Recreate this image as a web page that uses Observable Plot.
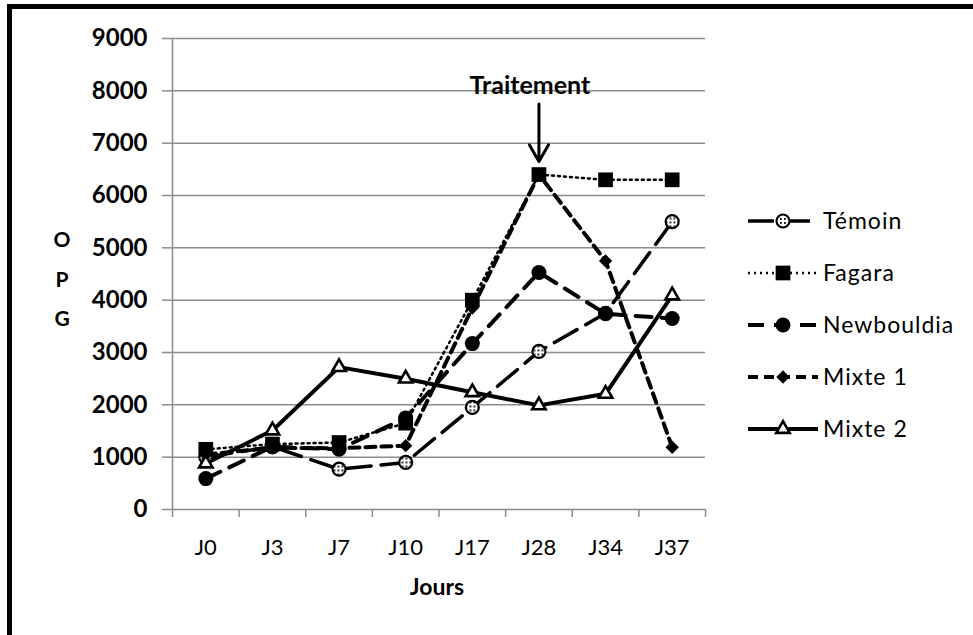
<!DOCTYPE html>
<html>
<head>
<meta charset="utf-8">
<script src="https://cdn.jsdelivr.net/npm/d3@7"></script>
<script src="https://cdn.jsdelivr.net/npm/@observablehq/plot@0.6"></script>
<style>
  html, body { margin: 0; padding: 0; background: #fff; }
  body { width: 973px; height: 635px; overflow: hidden; position: relative; font-family: Lato, "Open Sans", sans-serif; }
  #frame { position: absolute; left: 7px; top: 4px; width: 2000px; height: 2000px; border-left: 5px solid #000; border-top: 5px solid #000; box-sizing: border-box; }
  #chart { position: absolute; left: 0; top: 0; }
  .lbl { position: absolute; transform: translate(-50%, -50%); line-height: 1; font-weight: bold; color: #000; white-space: nowrap; }
  #legend { position: absolute; left: 0; top: 0; }
</style>
</head>
<body>
<div id="frame"></div>
<div id="chart"></div>
<div class="lbl" style="left:62px;top:238px;font-size:21px;">O</div>
<div class="lbl" style="left:62px;top:278px;font-size:21px;">P</div>
<div class="lbl" style="left:62px;top:317px;font-size:21px;">G</div>
<div class="lbl" style="left:437px;top:586px;font-size:23px;">Jours</div>
<script>
// ---- data ----
const days = ["J0", "J3", "J7", "J10", "J17", "J28", "J34", "J37"];
const temoin     = [1000, 1200,  770,  900, 1950, 3020, 3750, 5500];
const fagara     = [1150, 1250, 1280, 1650, 4000, 6400, 6300, 6300];
const newbouldia = [ 590, 1200, 1150, 1750, 3170, 4530, 3740, 3650];
const mixte1     = [1050, 1180, 1170, 1220, 3850, 6400, 4750, 1190];
const mixte2     = [ 880, 1510, 2720, 2500, 2240, 1990, 2210, 4090];
const seriesNames = ["Témoin", "Fagara", "Newbouldia", "Mixte 1", "Mixte 2"];
const yTicks = [0, 1000, 2000, 3000, 4000, 5000, 6000, 7000, 8000, 9000];
const annotationLabel = "Traitement";
const annotationDay = "J28";
const annotationText = 8100;
const annotationArrowFrom = 7750;
const annotationArrowTo = 6650;

// ---- styles ----
const styles = {
  "Témoin":     {dash: "26 10", width: 3.5, symbol: "circle",   r: 6.5, fill: "url(#dots)", stroke: "#000", sw: 2.2},
  "Fagara":     {dash: "2 4",   width: 2.5, symbol: "square",   r: 8.3, fill: "#000", stroke: "none", sw: 0},
  "Newbouldia": {dash: "16 10", width: 4,   symbol: "circle",   r: 7.5, fill: "#000", stroke: "none", sw: 0},
  "Mixte 1":    {dash: "10 6",  width: 4,   symbol: "diamond2", r: 6,   fill: "#000", stroke: "none", sw: 0},
  "Mixte 2":    {dash: null,    width: 4,   symbol: "triangle", r: 5,   fill: "#fff", stroke: "#000", sw: 2.6}
};
const valuesByName = {"Témoin": temoin, "Fagara": fagara, "Newbouldia": newbouldia, "Mixte 1": mixte1, "Mixte 2": mixte2};

const rows = seriesNames.flatMap(name => valuesByName[name].map((v, i) => ({name, day: days[i], v})));
const xi = d => days.indexOf(d.day);
const boundaries = d3.range(days.length + 1).map(k => k - 0.5);

const lineMarks = seriesNames.map(name => {
  const s = styles[name];
  const opts = {filter: d => d.name === name, x: xi, y: "v", stroke: "#000", strokeWidth: s.width, strokeLinejoin: "round"};
  if (s.dash) opts.strokeDasharray = s.dash;
  return Plot.line(rows, opts);
});
const dotMarks = seriesNames.map(name => {
  const s = styles[name];
  return Plot.dot(rows, {filter: d => d.name === name, x: xi, y: "v", symbol: s.symbol, r: s.r, fill: s.fill, stroke: s.stroke, strokeWidth: s.sw});
});

const ann = [{label: annotationLabel, day: annotationDay, t: annotationText, a1: annotationArrowFrom, a2: annotationArrowTo}];

const chart = Plot.plot({
  width: 973,
  height: 635,
  marginLeft: 172,
  marginRight: 268,
  marginTop: 38,
  marginBottom: 126,
  x: {type: "linear", domain: [-0.5, days.length - 0.5], axis: null},
  y: {domain: [0, 9000], axis: null},
  style: {fontFamily: "Lato, 'Open Sans', sans-serif", background: "transparent", overflow: "visible"},
  marks: [
    Plot.ruleY(yTicks, {x1: -0.5, x2: days.length - 0.5, stroke: "#8c8c8c", strokeWidth: 1.5}),
    Plot.ruleX([-0.5], {y1: 0, y2: 9000, stroke: "#8c8c8c", strokeWidth: 1.5}),
    Plot.axisY(yTicks, {anchor: "left", tickSize: 10, tickPadding: 15, stroke: "#8c8c8c", strokeWidth: 1.5, fontSize: 24, fontWeight: "bold", label: null, tickFormat: d => String(d)}),
    Plot.axisX(boundaries, {anchor: "bottom", tickSize: 8, tickFormat: () => "", stroke: "#8c8c8c", strokeWidth: 1.5, label: null}),
    Plot.axisX(d3.range(days.length), {anchor: "bottom", tickSize: 0, tickPadding: 30, tickFormat: i => days[i], fontSize: 22, label: null}),
    ...lineMarks,
    ...dotMarks,
    Plot.text(ann, {x: d => days.indexOf(d.day), y: "t", text: "label", fontSize: 25, fontWeight: "bold", fill: "#000", dx: -9}),
    Plot.arrow(ann, {x1: d => days.indexOf(d.day), x2: d => days.indexOf(d.day), y1: "a1", y2: "a2", stroke: "#000", strokeWidth: 3, headLength: 16, bend: 0})
  ]
});

const defs = d3.select(chart).insert("defs", ":first-child");
const pat = defs.append("pattern").attr("id", "dots").attr("patternUnits", "userSpaceOnUse").attr("width", 4).attr("height", 4);
pat.append("rect").attr("width", 4).attr("height", 4).attr("fill", "#fff");
pat.append("rect").attr("x", 1).attr("y", 1).attr("width", 1.8).attr("height", 1.8).attr("fill", "#000");
document.getElementById("chart").appendChild(chart);

// ---- legend ----
const symbolMap = {circle: d3.symbolCircle, square: d3.symbolSquare, diamond2: d3.symbolDiamond2, triangle: d3.symbolTriangle};
const legend = d3.select("body").append("svg").attr("id", "legend").attr("width", 973).attr("height", 635);
const lDefs = legend.append("defs");
const lp = lDefs.append("pattern").attr("id", "dotsL").attr("patternUnits", "userSpaceOnUse").attr("width", 4).attr("height", 4);
lp.append("rect").attr("width", 4).attr("height", 4).attr("fill", "#fff");
lp.append("rect").attr("x", 1).attr("y", 1).attr("width", 1.8).attr("height", 1.8).attr("fill", "#000");
seriesNames.forEach((name, k) => {
  const s = styles[name];
  const cy = 221 + k * 52;
  const g = legend.append("g");
  const ln = g.append("line").attr("x1", 748).attr("x2", 818).attr("y1", cy).attr("y2", cy)
    .attr("stroke", "#000").attr("stroke-width", s.width);
  if (s.dash) ln.attr("stroke-dasharray", s.dash);
  g.append("path").attr("transform", `translate(783,${cy})`)
    .attr("d", d3.symbol(symbolMap[s.symbol], s.r * s.r * Math.PI)())
    .attr("fill", s.fill === "url(#dots)" ? "url(#dotsL)" : s.fill)
    .attr("stroke", s.stroke).attr("stroke-width", s.sw);
  g.append("text").attr("x", 823).attr("y", cy).attr("dy", "0.36em")
    .attr("font-family", "Lato, 'Open Sans', sans-serif").attr("font-size", 23)
    .attr("letter-spacing", "1px").attr("fill", "#000").text(name);
});
</script>
</body>
</html>
